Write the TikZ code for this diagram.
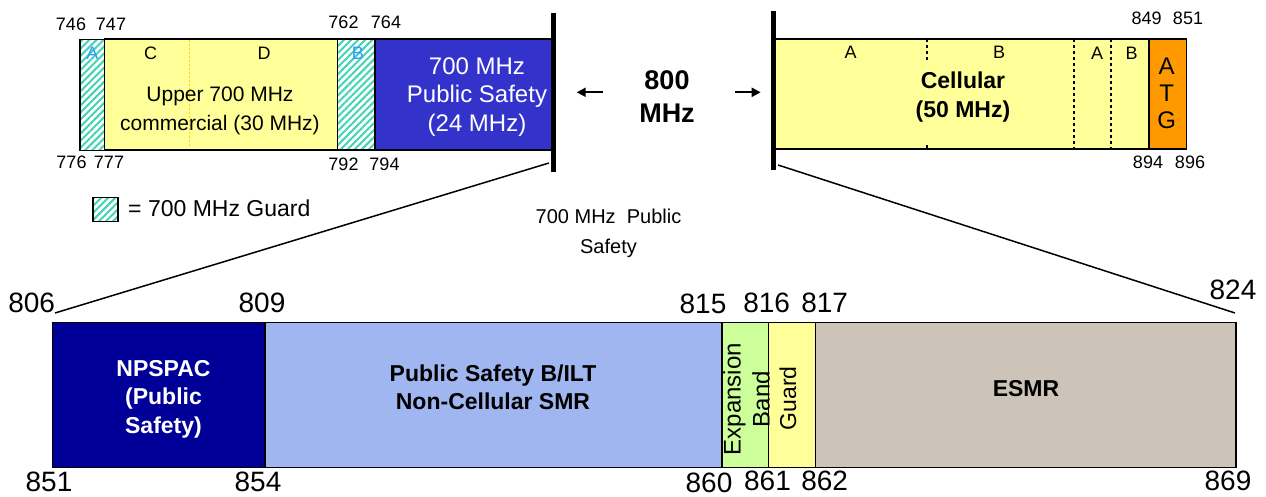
\documentclass[tikz,border=0pt]{standalone}
\usepackage{fontspec}
\setmainfont{Liberation Sans}
\usetikzlibrary{patterns.meta,arrows.meta}
\definecolor{byel}{RGB}{255,255,153}
\definecolor{bps}{RGB}{51,51,204}
\definecolor{borange}{RGB}{255,153,0}
\definecolor{bnavy}{RGB}{0,0,153}
\definecolor{blblue}{RGB}{160,182,240}
\definecolor{bgreen}{RGB}{204,255,153}
\definecolor{btan}{RGB}{204,196,185}
\definecolor{bhatch}{RGB}{64,212,180}
\definecolor{bletter}{RGB}{51,153,255}
\definecolor{bdot}{RGB}{255,210,0}
\newcommand\fs[2]{\fontsize{#1}{#2}\selectfont}
\tikzset{
  band/.style={draw=black, line width=1.5pt, inner sep=0pt, anchor=north west, minimum height=#1},
  guardfill/.style={pattern={Lines[angle=45,distance=5pt,line width=2pt]}, pattern color=bhatch},
  lbl/.style={inner sep=0pt, font=\fs{18}{20}},
  big/.style={inner sep=0pt, font=\fs{28}{30}},
  thick bar/.style={line width=5pt},
  sep/.style={line width=2pt, dash pattern=on 3pt off 3pt},
  zoomline/.style={line width=1.5pt},
  arr/.style={line width=2pt, -{Triangle[length=9pt,width=9pt]}},
}
\begin{document}
\begin{tikzpicture}[x=1pt,y=-1pt]
\useasboundingbox (0,0) rectangle (1266,497);
% ---------- top left bar ----------
\node[band=111pt, minimum width=24.6pt, guardfill] (gA) at (79,38.5) {};
\node[band=111pt, minimum width=233.2pt, fill=byel] (yel) at (103.6,38.5) {};
\node[band=111pt, minimum width=37.2pt, guardfill] (gB) at (336.8,38.5) {};
\node[band=111pt, minimum width=178pt, fill=bps] (ps7) at (374,38.5) {};
\draw[line width=1.5pt, bdot, dash pattern=on 2pt off 2pt] (189.4,40) -- (189.4,148);
\coordinate (Ltop) at (553,13);
\coordinate (Lbot) at (553,172);
\draw[thick bar] (Ltop) -- (Lbot);
% labels
\node[lbl] (t746) at (71,24) {746};
\node[lbl] (t747) at (111,24) {747};
\node[lbl] (t762) at (343.5,22.5) {762};
\node[lbl] (t764) at (386,22.5) {764};
\node[lbl] (t776) at (71.5,162.5) {776};
\node[lbl] (t777) at (109,162.5) {777};
\node[lbl] (t792) at (343.5,164) {792};
\node[lbl] (t794) at (384.5,164) {794};
\node[lbl, text=bletter] (lA) at (92.4,53) {A};
\node[lbl] (lC) at (150.5,53) {C};
\node[lbl] (lD) at (264,53) {D};
\node[lbl, text=bletter] (lB) at (357.8,53) {B};
\node[inner sep=0pt, align=center, font=\fs{21}{28.7}] (upper) at (220,111) {Upper 700 MHz\\commercial (30 MHz)};
\node[inner sep=0pt, align=center, font=\fs{24}{28.7}, text=white] (ps7t) at (477,97) {700 MHz\\Public Safety\\(24 MHz)};
% ---------- top right bar ----------
\node[band=110pt, minimum width=375.3pt, fill=byel] (cell) at (773,38.3) {};
\node[band=110pt, minimum width=37.4pt, fill=borange] (atg) at (1148.3,38.3) {};
\draw[sep] (927,39) -- (927,62);
\draw[sep] (927,145) -- (927,148);
\draw[sep] (1074.3,39) -- (1074.3,148);
\draw[sep] (1111,39) -- (1111,148);
\coordinate (Rtop) at (773,11);
\coordinate (Rbot) at (773,170);
\draw[thick bar] (Rtop) -- (Rbot);
\node[lbl] (cA) at (850.7,52) {A};
\node[lbl] (cB) at (999,52) {B};
\node[lbl] (cA2) at (1097,53) {A};
\node[lbl] (cB2) at (1131.7,53) {B};
\node[inner sep=0pt, align=center, font=\bfseries\fs{23}{28.3}] (cellt) at (963,97) {Cellular\\(50 MHz)};
\node[inner sep=0pt, align=center, font=\fs{24}{26.7}] (atgt) at (1166.7,93.5) {A\\T\\G};
\node[lbl] (t849) at (1146.7,18.5) {849};
\node[lbl] (t851) at (1188,18.5) {851};
\node[lbl] (t894) at (1148,162.5) {894};
\node[lbl] (t896) at (1190,162.5) {896};
% ---------- centre ----------
\node[inner sep=0pt, align=center, font=\bfseries\fs{27}{33}] (mhz) at (667,97) {800\\MHz};
\coordinate (la1) at (602.7,92.3);
\coordinate (la2) at (576.7,92.3);
\coordinate (ra1) at (735,92.3);
\coordinate (ra2) at (760.7,92.3);
\draw[arr] (la1) -- (la2);
\draw[arr] (ra1) -- (ra2);
% legend
\node[band=24pt, minimum width=25pt, guardfill] (leg) at (92,197) {};
\node[inner sep=0pt, anchor=west, font=\fs{23}{25}] (legt) at (128,208) {= 700 MHz Guard};
\node[inner sep=0pt, align=center, font=\fs{20}{30}] (pst) at (608.5,233) {700 MHz\ \ Public\\Safety};
% ---------- bottom bar ----------
\node[band=145pt, minimum width=212.3pt, fill=bnavy] (np) at (51.7,321.7) {};
\node[band=145pt, minimum width=457pt, fill=blblue] (psb) at (264,321.7) {};
\node[band=145pt, minimum width=46.7pt, fill=bgreen] (exp) at (721,321.7) {};
\node[band=145pt, minimum width=47pt, fill=byel] (grd) at (767.7,321.7) {};
\node[band=145pt, minimum width=420.3pt, fill=btan] (esmr) at (814.7,321.7) {};
\node[inner sep=0pt, align=center, font=\bfseries\fs{23}{28.5}, text=white] (npt) at (163.5,399) {NPSPAC\\(Public\\Safety)};
\node[inner sep=0pt, align=center, font=\bfseries\fs{23}{28}] (psbt) at (493,387) {Public Safety B/ILT\\Non-Cellular SMR};
\node[inner sep=0pt, align=center, font=\fs{24}{29}, rotate=90] (expt) at (746.5,399) {Expansion\\Band};
\node[inner sep=0pt, font=\fs{23}{25}, rotate=90] (grdt) at (788,398.5) {Guard};
\node[inner sep=0pt, font=\bfseries\fs{23}{25}] (esmrt) at (1026,389) {ESMR};
\node[big] (b806) at (31.7,303) {806};
\node[big] (b809) at (262,303) {809};
\node[big] (b815) at (703,304) {815};
\node[big] (b816) at (766.7,303) {816};
\node[big] (b817) at (824.7,303) {817};
\node[big] (b824) at (1233,290) {824};
\node[big] (b851) at (49,482) {851};
\node[big] (b854) at (258,482) {854};
\node[big] (b860) at (709,483) {860};
\node[big] (b861) at (767.5,481) {861};
\node[big] (b862) at (824.7,481) {862};
\node[big] (b869) at (1228,481) {869};
% ---------- zoom lines ----------
\coordinate (z1) at (55,313);
\coordinate (z2) at (549,163);
\coordinate (z3) at (778,165);
\coordinate (z4) at (1235,313);
\draw[zoomline] (z1) -- (z2);
\draw[zoomline] (z3) -- (z4);
\end{tikzpicture}
\end{document}
